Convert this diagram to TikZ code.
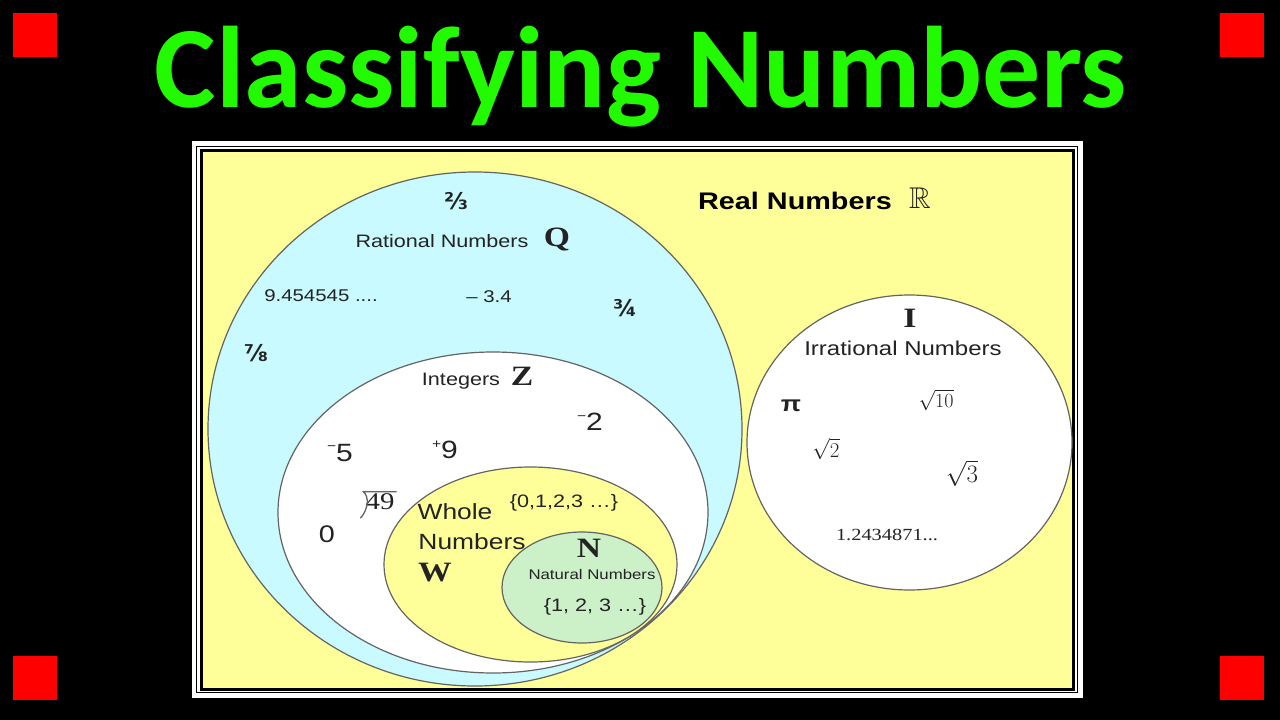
\RequirePackage{fix-cm}
\documentclass[tikz,border=0pt]{standalone}
\usepackage{amssymb}
\usepackage{fontspec}
\usetikzlibrary{shapes.geometric}
\setmainfont{Liberation Serif}
\newfontfamily\titlefont{Carlito}
\newfontfamily\diagsans[FakeStretch=1.2]{Liberation Sans}
\newfontfamily\diagserif[FakeStretch=1.2]{Liberation Serif}
\newfontfamily\fracfont{DejaVu Sans}
\newcommand\fsz[1]{\fontsize{#1}{#1}\selectfont}
\newcommand\upsign[1]{\raisebox{0.42em}{\fsz{13}#1}}
\definecolor{titlegreen}{RGB}{34,250,0}
\definecolor{realyellow}{RGB}{255,255,153}
\definecolor{ratblue}{RGB}{200,250,255}
\definecolor{natgreen}{RGB}{204,240,200}
\definecolor{edgegrey}{RGB}{100,100,100}
\definecolor{inkgrey}{RGB}{35,35,35}
\begin{document}
\begin{tikzpicture}[x=1pt, y=-1pt,
	corner/.style={ fill=red, draw=none, minimum size=44pt, inner sep=0pt },
	setq/.style={ ellipse, draw=edgegrey, line width=1.2pt, inner sep=0pt },
	txt/.style={ text=inkgrey, inner sep=0pt, font=\diagsans\fsz{#1} },
	letter/.style={ text=inkgrey, inner sep=0pt, font=\diagserif\bfseries\fsz{#1} },
	frac/.style={ text=inkgrey, inner sep=0pt, font=\fracfont\bfseries\fsz{#1} }
]
\useasboundingbox (0,0) rectangle (1280,720);
\fill[black] (0,0) rectangle (1280,720);

% corners and title
\node at (35,35) (c1) [corner] {};
\node at (1242,35) (c2) [corner] {};
\node at (35,678) (c3) [corner] {};
\node at (1242,678) (c4) [corner] {};
\node at (641,107) (title) [anchor=base, text=titlegreen, font=\titlefont\bfseries\fsz{116}] {Classifying Numbers};

% frame
\fill[white] (192,141) rectangle (1083,698);
\draw[black, line width=1pt] (196.5,146.5) rectangle (1077.5,692.5);
\draw[black, line width=3pt, fill=realyellow] (201,150.5) rectangle (1073.5,689.5);

% sets
\node at (475,429) (rat) [setq, fill=ratblue, minimum width=534pt, minimum height=514pt] {};
\node at (493,512.5) (int) [setq, fill=white, minimum width=430pt, minimum height=321pt] {};
\node at (530.5,564.5) (whole) [setq, fill=realyellow, minimum width=293pt, minimum height=195pt] {};
\node at (582,587.5) (nat) [setq, fill=natgreen, minimum width=160pt, minimum height=111pt] {};
\node at (909.5,442.5) (irr) [setq, fill=white, minimum width=325pt, minimum height=295pt] {};

% rational
\node at (456,201) (f23) [frac=23] {⅔};
\node at (442,241) (ratname) [txt=18] {Rational Numbers};
\node at (557,239) (ratq) [letter=28] {Q};
\node at (321,296) (rep) [txt=17] {9.454545 ....};
\node at (489,297) (neg) [txt=17] {– 3.4};
\node at (625,308) (f34) [frac=23] {¾};
\node at (256,353) (f78) [frac=23] {⅞};

% integers
\node at (461,381) (intname) [txt=18] {Integers};
\node at (522,376) (intz) [letter=28] {Z};
\node at (590,422) (m2) [txt=25] {\upsign{−}2};
\node at (340,453) (m5) [txt=25] {\upsign{−}5};
\node at (445,450) (p9) [txt=25] {\upsign{+}9};
\node at (327,534) (zero) [txt=24] {0};
\node at (380,502) (root) [text=inkgrey, inner sep=2pt, font=\diagserif\fsz{24}] {49};
\draw[edgegrey, line width=1.3pt] (root.north east) -- (root.north west)
	.. controls ([xshift=6pt,yshift=-5pt]root.north west) and ([xshift=5pt,yshift=3pt]root.south west)
	.. ([xshift=-3pt,yshift=-6pt]root.south west);

% whole
\node at (455,512) (wname) [txt=22] {Whole};
\node at (472,542) (wname2) [txt=22] {Numbers};
\node at (435,573) (wholew) [letter=28] {W};
\node at (564,503) (wset) [txt=18] {\{0,1,2,3 …\}};

% natural
\node at (589,548) (natn) [letter=28] {N};
\node at (592,574) (natname) [txt=14] {Natural Numbers};
\node at (595,607) (nset) [txt=18] {\{1, 2, 3 …\}};

% real and irrational
\node at (795,201) (realname) [txt=24, font=\diagsans\bfseries\fsz{24}, text=black] {Real Numbers};
\node at (920,198) (realr) [txt=30] {$\mathbb{R}$};
\node at (910,318) (irri) [letter=28] {I};
\node at (903,348) (irrname) [txt=20] {Irrational Numbers};
\node at (791,406) (pi) [txt=22, font=\diagsans\bfseries\fsz{22}] {π};
\node at (936,400) (r10) [txt=20] {$\sqrt{10}$};
\node at (826,449) (r2) [txt=21] {$\sqrt{2}$};
\node at (962,473) (r3) [txt=25] {$\sqrt{3}$};
\node at (887,535) (dec) [text=inkgrey, inner sep=0pt, font=\diagserif\fsz{17}] {1.2434871...};

\end{tikzpicture}
\end{document}
